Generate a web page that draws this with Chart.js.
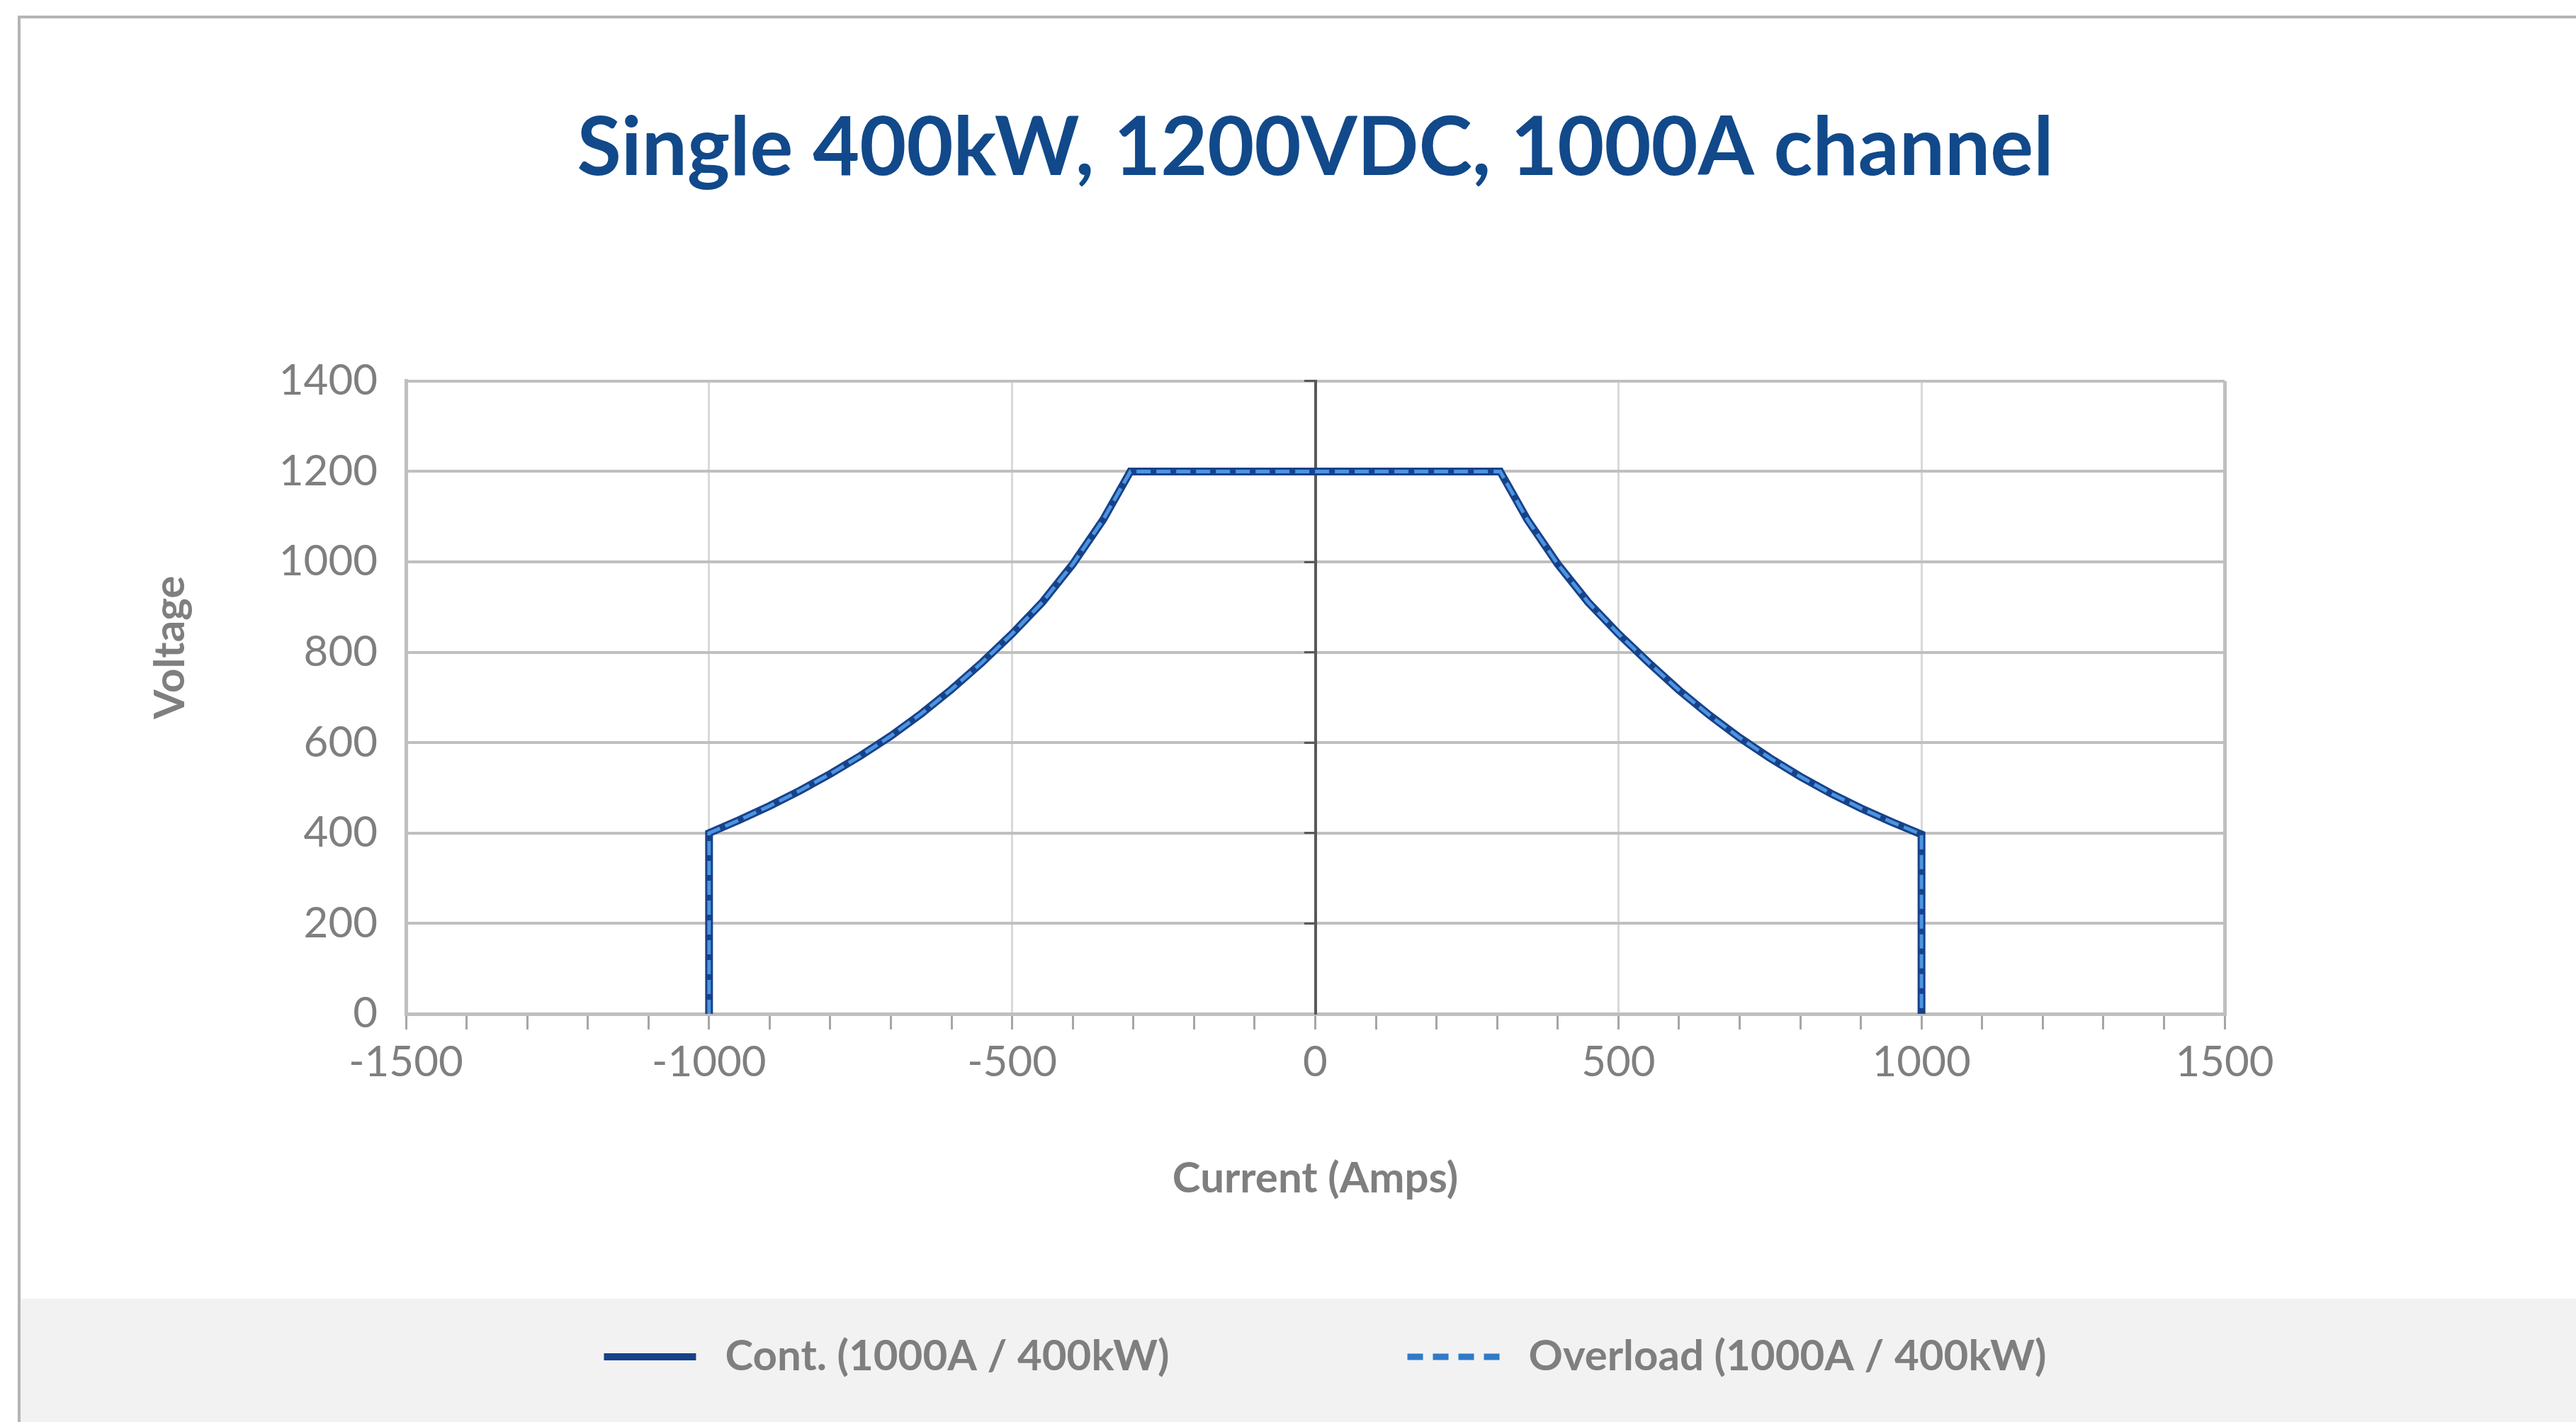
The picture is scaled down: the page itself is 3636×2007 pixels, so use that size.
<!DOCTYPE html>
<html>
<head>
<meta charset="utf-8">
<title>Single 400kW, 1200VDC, 1000A channel</title>
<script src="https://cdn.jsdelivr.net/npm/chart.js@4.4.1/dist/chart.umd.min.js"></script>
<style>
  html, body { margin: 0; padding: 0; width: 3636px; height: 2007px; overflow: hidden; background: #fff; }
  .frame { position: absolute; left: 25px; top: 22px; right: -20px; bottom: -20px;
           border-top: 4px solid #b4b4b4; border-left: 4px solid #b4b4b4; }
  .legend-band { position: absolute; left: 29px; top: 1833px; right: 0; bottom: 0; background: #f2f2f2; }
  #chart { position: absolute; left: 0; top: 0; }
</style>
</head>
<body>
<div class="frame"></div>
<div class="legend-band"></div>
<canvas id="chart" width="3636" height="2007"></canvas>
<script>
// ── Data ────────────────────────────────────────────────────────
const TITLE = 'Single 400kW, 1200VDC, 1000A channel';
const X_TITLE = 'Current (Amps)';
const Y_TITLE = 'Voltage';
const SERIES_NAMES = ['Cont. (1000A / 400kW)', 'Overload (1000A / 400kW)'];

const contCurrent = [-1000, -1000, -950, -900, -850, -800, -750, -700, -650, -600, -550, -500, -450, -400, -350, -305,
  305, 350, 400, 450, 500, 550, 600, 650, 700, 750, 800, 850, 900, 950, 1000, 1000];
const contVoltage = [0, 400, 429, 460, 494, 531, 571, 615, 664, 718, 777, 841, 911, 995, 1093, 1200,
  1200, 1093, 995, 911, 841, 777, 716, 661, 611, 566, 525, 488, 455, 425, 397, 0];

// overload curve sits exactly on top of the continuous one
const overloadCurrent = [-1000, -1000, -950, -900, -850, -800, -750, -700, -650, -600, -550, -500, -450, -400, -350, -305,
  305, 350, 400, 450, 500, 550, 600, 650, 700, 750, 800, 850, 900, 950, 1000, 1000];
const overloadVoltage = [0, 400, 429, 460, 494, 531, 571, 615, 664, 718, 777, 841, 911, 995, 1093, 1200,
  1200, 1093, 995, 911, 841, 777, 716, 661, 611, 566, 525, 488, 455, 425, 397, 0];

const X_MIN = -1500, X_MAX = 1500, X_STEP = 100, X_LABEL_STEP = 500;
const Y_MIN = 0, Y_MAX = 1400, Y_STEP = 200;

// ── Style ────────────────────────────────────────────────────────
const COLORS = {
  title: '#11498a',
  text: '#7f7f7f',
  grid: '#bfbfbf',
  gridLight: '#d9d9d9',
  zeroAxis: '#595959',
  cont: '#17428a',
  overload: '#4d94e0',
  overloadLegend: '#2f7bc8',
};

Chart.defaults.font.family = "Lato, 'Open Sans', sans-serif";
Chart.defaults.color = COLORS.text;

const toPoints = (xs, ys) => xs.map((x, i) => ({ x, y: ys[i] }));

// legend drawn inside the grey band at the bottom
const bandLegend = {
  id: 'bandLegend',
  afterDraw(chart) {
    const ctx = chart.ctx;
    const area = chart.chartArea;
    const y = chart.height - 92;
    const sample = 130, gap = 41, itemGap = 336;
    const styles = [
      { color: COLORS.cont, width: 10, dash: [] },
      { color: COLORS.overloadLegend, width: 9, dash: [22, 14] },
    ];
    ctx.save();
    ctx.font = 'bold 60px Lato';
    const widths = SERIES_NAMES.map(t => ctx.measureText(t).width);
    const total = widths.reduce((a, w) => a + sample + gap + w, 0) + itemGap;
    let x = (area.left + area.right) / 2 + 14 - total / 2;
    SERIES_NAMES.forEach((name, i) => {
      const s = styles[i];
      ctx.beginPath();
      ctx.lineWidth = s.width;
      ctx.strokeStyle = s.color;
      ctx.lineCap = 'butt';
      ctx.setLineDash(s.dash);
      ctx.moveTo(x, y);
      ctx.lineTo(x + sample, y);
      ctx.stroke();
      ctx.setLineDash([]);
      ctx.fillStyle = COLORS.text;
      ctx.textAlign = 'left';
      ctx.textBaseline = 'middle';
      ctx.fillText(name, x + sample + gap, y);
      x += sample + gap + widths[i] + itemGap;
    });
    ctx.restore();
  }
};

// rotated y-axis title, placed a bit above the axis middle like the original
const yTitle = {
  id: 'yTitle',
  afterDraw(chart) {
    const ctx = chart.ctx;
    const area = chart.chartArea;
    ctx.save();
    ctx.translate(area.left - 332, area.top + 376);
    ctx.rotate(-Math.PI / 2);
    ctx.font = 'bold 60px Lato';
    ctx.fillStyle = COLORS.text;
    ctx.textAlign = 'center';
    ctx.textBaseline = 'middle';
    ctx.fillText(Y_TITLE, 0, 0);
    ctx.restore();
  }
};

new Chart(document.getElementById('chart'), {
  type: 'scatter',
  data: {
    datasets: [
      {
        label: SERIES_NAMES[0],
        data: toPoints(contCurrent, contVoltage),
        showLine: true,
        borderColor: COLORS.cont,
        borderWidth: 11,
        borderJoinStyle: 'miter',
        pointRadius: 0,
        tension: 0,
        order: 2,
      },
      {
        label: SERIES_NAMES[1],
        data: toPoints(overloadCurrent, overloadVoltage),
        showLine: true,
        borderColor: COLORS.overload,
        borderWidth: 5,
        borderDash: [20, 8],
        borderJoinStyle: 'miter',
        pointRadius: 0,
        tension: 0,
        order: 1,
      },
    ]
  },
  options: {
    responsive: false,
    animation: false,
    devicePixelRatio: 1,
    layout: { padding: { left: 0, right: 496, top: 0, bottom: 276 } },
    plugins: {
      legend: { display: false },
      tooltip: { enabled: false },
      title: {
        display: true,
        fullSize: false,
        text: TITLE,
        color: COLORS.title,
        font: { size: 114, weight: 'bold' },
        padding: { top: 142, bottom: 259 },
      },
    },
    scales: {
      x: {
        type: 'linear',
        position: 'bottom',
        min: X_MIN,
        max: X_MAX,
        afterFit: (s) => { s.height = 300; },
        ticks: {
          stepSize: X_STEP,
          autoSkip: false,
          maxRotation: 0,
          padding: 11,
          color: COLORS.text,
          font: { size: 60 },
          callback: (v) => (v % X_LABEL_STEP === 0 ? String(v) : ''),
        },
        grid: {
          color: (c) => {
            const v = c.tick.value;
            if (v === 0) return 'rgba(0,0,0,0)';
            if (v === X_MIN || v === X_MAX) return COLORS.grid;
            return v % X_LABEL_STEP === 0 ? COLORS.gridLight : 'rgba(0,0,0,0)';
          },
          lineWidth: (c) => (c.tick.value === X_MIN || c.tick.value === X_MAX ? 5 : 3),
          tickColor: '#a6a6a6',
          tickLength: 22,
          tickWidth: 3,
        },
        border: { color: COLORS.grid, width: 5 },
        title: {
          display: true,
          text: X_TITLE,
          color: COLORS.text,
          font: { size: 60, weight: 'bold' },
          padding: { top: 0, bottom: 31 },
        },
      },
      y: {
        type: 'linear',
        position: 'left',
        min: Y_MIN,
        max: Y_MAX,
        afterFit: (s) => { s.width = 573; },
        ticks: {
          stepSize: Y_STEP,
          padding: 40,
          color: COLORS.text,
          font: { size: 60 },
          callback: (v) => String(v),
        },
        grid: { color: COLORS.grid, lineWidth: 4, drawTicks: false },
        border: { color: COLORS.grid, width: 5 },
      },
      // vertical axis line crossing at 0 A, with its small tick marks
      yZero: {
        axis: 'y',
        type: 'linear',
        position: { x: 0 },
        min: Y_MIN,
        max: Y_MAX,
        ticks: { display: false, stepSize: Y_STEP },
        grid: { drawOnChartArea: false, drawTicks: true, tickLength: 14, tickColor: COLORS.zeroAxis, tickWidth: 3 },
        border: { color: COLORS.zeroAxis, width: 4 },
      },
    },
  },
  plugins: [bandLegend, yTitle],
});
</script>
</body>
</html>
